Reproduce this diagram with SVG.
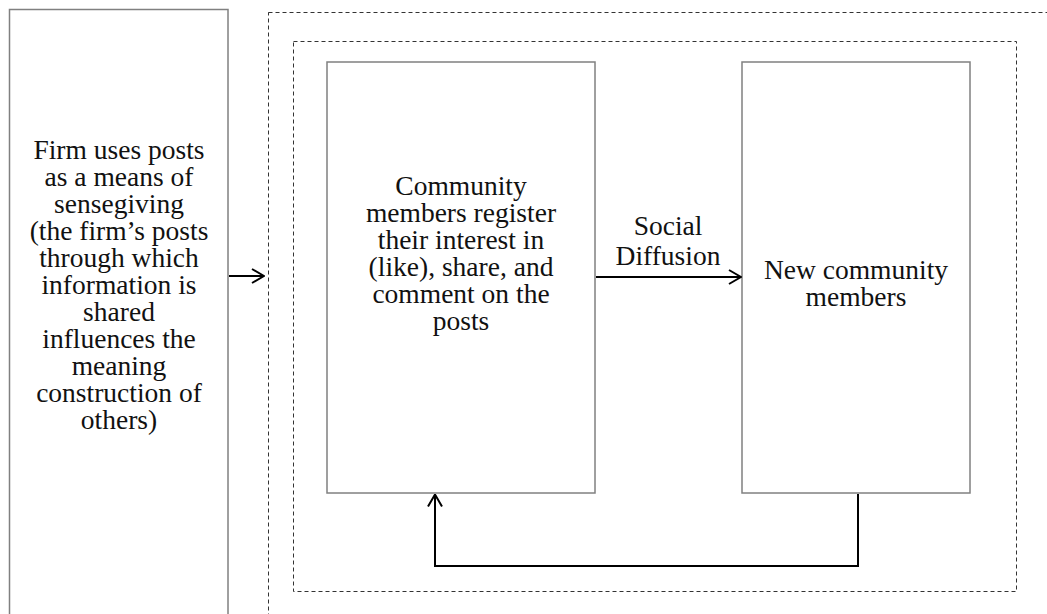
<svg xmlns="http://www.w3.org/2000/svg" width="1047" height="614" viewBox="0 0 1047 614">
<style>
.box{fill:#fff;stroke:#808080;stroke-width:1.5}
.dash{fill:none;stroke:#333;stroke-width:1;stroke-dasharray:4 3}
.t{font-family:"Liberation Serif","Times New Roman",serif;font-size:27.5px;fill:#111;text-anchor:middle}
.c{fill:none;stroke:#000;stroke-width:2}
</style>
<defs>
<marker id="open" viewBox="0 0 14 16" refX="13" refY="8" markerWidth="14" markerHeight="16" markerUnits="userSpaceOnUse" orient="auto">
<path d="M1,1 L13,8 L1,15" fill="none" stroke="#000" stroke-width="2"/>
</marker>
</defs>
<rect width="1047" height="614" fill="#fff"/>
<rect class="dash" x="268.5" y="12.5" width="800" height="640"/>
<rect class="dash" x="293.5" y="41.5" width="723" height="550"/>
<g id="node-firm">
<rect class="box" x="9.5" y="9.5" width="218.5" height="640"/>
<text class="t" x="119"><tspan x="119" y="159">Firm uses posts</tspan><tspan x="119" y="186">as a means of</tspan><tspan x="119" y="213">sensegiving</tspan><tspan x="119" y="240">(the firm’s posts</tspan><tspan x="119" y="267">through which</tspan><tspan x="119" y="294">information is</tspan><tspan x="119" y="321">shared</tspan><tspan x="119" y="348">influences the</tspan><tspan x="119" y="375">meaning</tspan><tspan x="119" y="402">construction of</tspan><tspan x="119" y="429">others)</tspan></text>
</g>
<g id="node-community">
<rect class="box" x="327" y="62" width="268" height="431"/>
<text class="t"><tspan x="461" y="195">Community</tspan><tspan x="461" y="222">members register</tspan><tspan x="461" y="249">their interest in</tspan><tspan x="461" y="276">(like), share, and</tspan><tspan x="461" y="303">comment on the</tspan><tspan x="461" y="330">posts</tspan></text>
</g>
<g id="node-new">
<rect class="box" x="742" y="62" width="228" height="431"/>
<text class="t"><tspan x="856" y="279">New community</tspan><tspan x="856" y="306">members</tspan></text>
</g>
<g id="connectors">
<line class="c" x1="229" y1="276" x2="264" y2="276" marker-end="url(#open)"/>
<line class="c" x1="596" y1="277" x2="741" y2="277" marker-end="url(#open)"/>
<polyline class="c" points="858,494 858,566 435,566 435,494.5" marker-end="url(#open)"/>
<text class="t"><tspan x="668" y="235">Social</tspan><tspan x="668" y="265">Diffusion</tspan></text>
</g>
</svg>
